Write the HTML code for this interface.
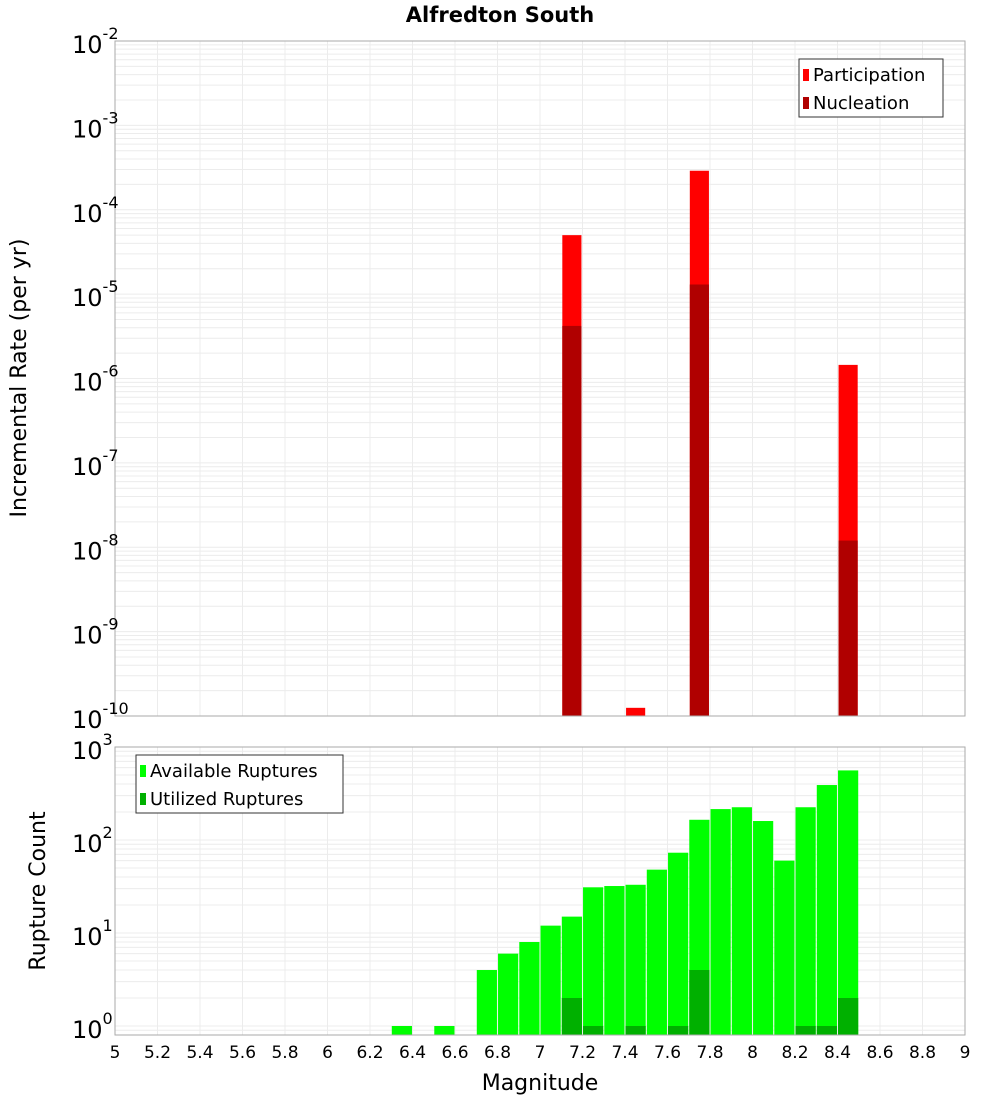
<!DOCTYPE html>
<html><head><meta charset="utf-8"><style>
body{margin:0;background:#fff;}
svg{display:block;font-family:"DejaVu Sans","Liberation Sans",sans-serif;}
</style></head><body>
<svg id="c" width="1000" height="1100" viewBox="0 0 1000 1100"></svg>
<script>
const mags=[6.35,6.55,6.75,6.85,6.95,7.05,7.15,7.25,7.35,7.45,7.55,7.65,7.75,7.85,7.95,8.05,8.15,8.25,8.35,8.45];
const available=[1,1,4,6,8,12,15,31,32,33,48,73,165,215,225,160,60,225,390,560];
const utilized=[0,0,0,0,0,0,2,1,0,1,0,1,4,0,0,0,0,1,1,2];
const rateMags=[7.15,7.45,7.75,8.45];
const participation=[5e-5,1.25e-10,2.9e-4,1.45e-6];
const nucleation=[4.2e-6,0,1.3e-5,1.2e-8];
const xTicks=[5,5.2,5.4,5.6,5.8,6,6.2,6.4,6.6,6.8,7,7.2,7.4,7.6,7.8,8,8.2,8.4,8.6,8.8,9];
const topExps=[-2,-3,-4,-5,-6,-7,-8,-9,-10];
const botExps=[3,2,1,0];

const NS="http://www.w3.org/2000/svg";
const svg=document.getElementById('c');
function el(t,a,p){const e=document.createElementNS(NS,t);for(const k in a)e.setAttribute(k,a[k]);(p||svg).appendChild(e);return e;}
const L=115,R=965;
const x=v=>L+(v-5)/4*(R-L);
const T1=41,B1=716;
const y1=v=>T1+(-2-Math.log10(v))/8*(B1-T1);
const T2=747,B2=1035;
const y2=v=>1026-Math.log10(v)*93;

function grid(T,B,lo,hi,yf){
  for(let e=lo;e<hi;e++)for(let m=1;m<10;m++){const v=m*Math.pow(10,e);const yy=yf(v);if(yy<T||yy>B)continue;
    const g=el('line',{x1:L,x2:R,y1:yy,y2:yy,stroke:'#ececec','stroke-width':1});
    }
  xTicks.forEach(t=>{const g=el('line',{x1:x(t),x2:x(t),y1:T,y2:B,stroke:'#ececec'});
    });
}
grid(T1,B1,-10,-2,y1);
grid(T2,B2,-1,3,y2);
const bw=0.09/4*(R-L);
// top bars
rateMags.forEach((m,i)=>{
  const p=el('rect',{x:x(m)-bw/2,y:y1(participation[i]),width:bw,height:B1-y1(participation[i]),fill:'#ff0000'});
  
  if(nucleation[i]>0){const n=el('rect',{x:x(m)-bw/2,y:y1(nucleation[i]),width:bw,height:B1-y1(nucleation[i]),fill:'#b00000'});
  }
});
// bottom bars
const bw2=0.095/4*(R-L);
mags.forEach((m,i)=>{
  const a=el('rect',{x:x(m)-bw2/2,y:y2(available[i]),width:bw2,height:B2-y2(available[i]),fill:'#00ff00'});
  
  if(utilized[i]>0){const u=el('rect',{x:x(m)-bw2/2,y:y2(utilized[i]),width:bw2,height:B2-y2(utilized[i]),fill:'#00b000'});
  }
});
// frames
[[T1,B1],[T2,B2]].forEach(([T,B])=>{const f=el('rect',{x:L,y:T,width:R-L,height:B-T,fill:'none',stroke:'#aaa'});
  });
// y labels
function ylab(e,yy){const t=el('text',{x:109,y:yy+12,'text-anchor':'end','font-size':24,fill:'#000'});
  
  t.appendChild(document.createTextNode('10'));const s=el('tspan',{dy:-14,'font-size':16},t);s.textContent=String(e);
  // put exponent after
  t.setAttribute('text-anchor','start');t.setAttribute('x',72);}
topExps.forEach(e=>ylab(e,y1(Math.pow(10,e))));
botExps.forEach(e=>ylab(e,y2(Math.pow(10,e))));
xTicks.forEach(t=>{const tx=el('text',{x:x(t),y:1058,'text-anchor':'middle','font-size':17});tx.textContent=String(t);
  });
function txt(s,a,name){const t=el('text',a);t.textContent=s;return t;}
txt('Alfredton South',{x:500,y:22,'text-anchor':'middle','font-size':21,'font-weight':'bold'},'chart-title');
txt('Magnitude',{x:540,y:1090,'text-anchor':'middle','font-size':22},'x-axis-title');
txt('Incremental Rate (per yr)',{x:26,y:378,'text-anchor':'middle','font-size':22,transform:'rotate(-90 26 378)'},'y-axis-title-top');
txt('Rupture Count',{x:45,y:891,'text-anchor':'middle','font-size':22,transform:'rotate(-90 45 891)'},'y-axis-title-bottom');
// legends
function legend(x0,y0,w,items,name){const g=el('g',{});
  el('rect',{x:x0,y:y0,width:w,height:58,fill:'#fff',stroke:'#333'},g);
  items.forEach((it,i)=>{el('rect',{x:x0+4,y:y0+10+i*28,width:6,height:12,fill:it[1]},g);
    const t=el('text',{x:x0+14,y:y0+22+i*28,'font-size':18},g);t.textContent=it[0];});}
legend(799,59,144,[['Participation','#ff0000'],['Nucleation','#b00000']],'legend-top');
legend(136,755,207,[['Available Ruptures','#00ff00'],['Utilized Ruptures','#00b000']],'legend-bottom');
</script>
</body></html>
